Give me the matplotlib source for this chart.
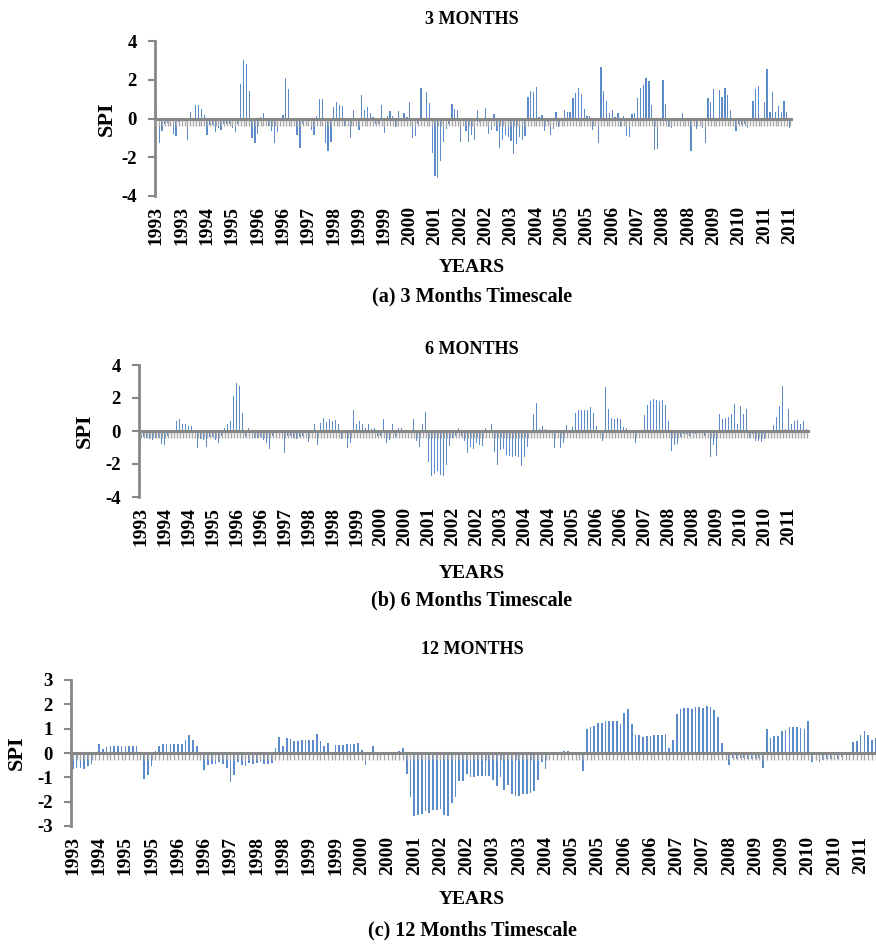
import numpy as np
import matplotlib
matplotlib.use("Agg")
import matplotlib.pyplot as plt

# ---------------- data ----------------
spi3 = [0.5, -1.25, -0.65, -0.3, -0.25, -0.35, -0.8, -0.9, -0.2, -0.15,
        0.05, -1.1, 0.35, -0.1, 0.7, 0.7, 0.5, 0.2, -0.85, -0.35,
        -0.35, -0.7, -0.5, -0.6, -0.3, -0.3, -0.3, -0.5, -0.7, -0.3,
        1.8, 3.0, 2.8, 1.4, -1.0, -1.25, -0.8, 0.1, 0.3, -0.3,
        -0.4, -0.65, -1.25, -0.7, -0.1, 0.2, 2.1, 1.5, -0.3, -0.3,
        -0.85, -1.5, -0.3, -0.1, 0.05, -0.6, -0.85, 0.15, 1.0, 1.0,
        -1.25, -1.7, -1.2, 0.6, 0.85, 0.7, 0.65, -0.4, 0.0, -1.0,
        0.45, -0.15, -0.6, 1.2, 0.45, 0.6, 0.3, 0.1, -0.3,
        -0.3, 0.7, -0.75, 0.15, 0.4, 0.15, -0.45, 0.4, -0.2, 0.3,
        0.1, 0.85, -1.0, -0.9, -0.3, 1.55, 0.05, 1.35, 0.8,
        -1.8, -2.95, -3.05, -2.2, -1.2, -0.55, -0.3, 0.75, 0.5, 0.45,
        -1.2, -0.3, -0.65, -1.2, -0.85, -1.1, 0.45, -0.2,
        -0.1, 0.55, -0.8, -0.6, 0.25, -0.65, -1.5, -1.1, -0.85, -0.95,
        -1.15, -1.85, -1.3, -0.95, -1.1, -0.9, 1.1, 1.4, 1.35, 1.65,
        0.1, 0.2, -0.65, -0.2, -0.85, -0.55, 0.35, -0.45, -0.1, 0.45,
        0.35, 0.35, 1.05, 1.3, 1.55, 1.25, 0.5, 0.15, 0.15, -0.6,
        -0.4, -1.25, 2.65, 1.4, 0.9, 0.3, 0.45, 0.1, 0.3, -0.45,
        0.15, -0.9, -0.95, 0.25, 0.3, 1.05, 1.55, 1.75, 2.1, 1.95,
        0.7, -1.6, -1.55, -0.35, 2.0, 0.75, -0.45, -0.5, -0.1, -0.1,
        -0.1, 0.3, -0.1, -0.1, -1.7, -0.1, -0.55, -0.1, -0.5, -1.25,
        1.05, 0.85, 1.5, -0.1, 1.45, 1.1, 1.55, 1.2, 0.45, -0.3,
        -0.65, -0.3, -0.35, -0.3, -0.5, -0.1, 0.9, 1.5, 1.7, -0.1,
        0.85, 2.55, 0.35, 1.35, 0.35, 0.65, 0.35, 0.9, 0.35, -0.5]

spi6 = [-0.6, -0.35, -0.4, -0.5, -0.55, -0.4, -0.45, -0.8, -0.85, -0.3,
        -0.1, -0.1, 0.6, 0.7, 0.45, 0.4, 0.3, 0.3, -0.1, -1.0,
        -0.5, -0.55, -0.95, -0.35, -0.35, -0.55, -0.75, -0.3, 0.2, 0.4,
        0.6, 2.1, 2.9, 2.75, 1.1, -0.35, 0.2, -0.15, -0.4, -0.45,
        -0.35, -0.55, -0.75, -1.1, -0.3, -0.1, -0.1, -0.1, -1.35, -0.3,
        -0.3, -0.45, -0.5, -0.35, -0.3, -0.1, -0.65, -0.1, 0.4, -0.85,
        0.5, 0.8, 0.55, 0.7, 0.6, 0.65, 0.4, -0.5, 0.05, -1.05,
        -0.75, 1.25, 0.45, 0.6, 0.45, 0.2, 0.45, 0.15, 0.2, -0.3,
        -0.3, 0.7, -0.7, -0.55, 0.4, -0.35, 0.2, 0.2, -0.1, -0.1,
        -0.1, 0.75, -0.6, -0.95, 0.45, 1.15, -1.85, -2.7, -2.6, -2.4,
        -2.65, -2.75, -2.05, -0.9, -0.45, -0.3, 0.2, -0.3, -0.6, -1.35,
        -0.95, -1.1, -0.75, -0.85,
        -0.9, 0.2, -0.1, 0.45, -1.25, -2.05, -1.15, -1.1, -1.45, -1.5,
        -1.55, -1.5, -1.6, -2.1, -1.6, -0.95, -0.1, 1.05, 1.7, 0.1,
        0.3, 0.1, -0.1, -0.1, -1.0, -0.1, -1.0, -0.75, 0.35, -0.1,
        0.25, 1.1, 1.3, 1.25, 1.25, 1.25, 1.45, 1.1, 0.3, -0.1,
        -0.6, 2.65, 1.35, 0.8, 0.7, 0.8, 0.7, 0.25, 0.2, -0.1,
        0.05, -0.75, -0.1, -0.1, 1.0, 1.6, 1.8, 1.95, 1.85, 1.8,
        1.85, 1.6, 0.6, -1.2, -0.85, -0.8, -0.35, -0.2, -0.2, -0.3,
        -0.15, -0.2, -0.1, -0.1, -0.3, -0.1, -1.55, -0.85, -1.5, 1.05,
        0.7, 0.8, 0.85, 1.05, 1.65, 0.45, 1.5, 1.05, 1.35, -0.45,
        -0.2, -0.6, -0.6, -0.65, -0.5, -0.1, -0.1, 0.35, 0.85, 1.5,
        2.7, 0.1, 1.35, 0.45, 0.6, 0.65, 0.45, 0.6, 0.1]

spi12 = [-0.65, -0.6, -0.6, -0.65, -0.55, -0.45, -0.15, 0.35, 0.15, 0.25,
         0.27, 0.27, 0.27, 0.3, 0.3, 0.3, 0.27, 0.3, -0.1, -1.05,
         -0.9, -0.55, 0.1, 0.3, 0.38, 0.38, 0.38, 0.38, 0.38, 0.38,
         0.55, 0.75, 0.55, 0.3, -0.3, -0.7, -0.5, -0.45, -0.45, -0.35,
         -0.45, -0.6, -1.2, -0.9, -0.35, -0.5, -0.55, -0.4, -0.45, -0.4,
         -0.35, -0.45, -0.45, -0.4, 0.2, 0.65, 0.3, 0.62, 0.58, 0.5,
         0.5, 0.53, 0.55, 0.55, 0.55, 0.8, 0.48, 0.28, 0.4, -0.1,
         0.33, 0.32, 0.33, 0.38, 0.37, 0.35, 0.4, 0.12, -0.5, 0.05,
         0.28, -0.1, -0.05, -0.02, 0.0, 0.03, 0.05, 0.07, 0.22, -0.85,
         -1.8, -2.6, -2.55, -2.5, -2.4, -2.45, -2.35, -2.35,
         -2.3, -2.55, -2.6, -2.05, -1.8, -1.15, -1.15, -0.85, -1.0, -1.0,
         -0.95, -0.95, -0.95, -0.95, -1.1, -1.35, -1.0, -1.5, -1.3, -1.7,
         -1.75, -1.75, -1.7, -1.7, -1.65, -1.55, -1.1, -0.35, -0.65, -0.05,
         -0.05, 0.0, 0.05, 0.08, 0.07, 0.03, -0.05, -0.1, -0.75, 1.0,
         1.05, 1.1, 1.25, 1.25, 1.3, 1.3, 1.3, 1.3, 1.2, 1.65,
         1.8, 1.2, 0.75, 0.75, 0.65, 0.68, 0.7, 0.72, 0.72, 0.72,
         0.77, 0.22, 0.55, 1.6, 1.8, 1.85, 1.85, 1.8, 1.87, 1.87,
         1.85, 1.95, 1.87, 1.75, 1.5, 0.4, -0.05, -0.5, -0.2, -0.25,
         -0.2, -0.2, -0.25, -0.25, -0.25, -0.2, -0.6, 1.0, 0.6, 0.7,
         0.7, 0.9, 0.95, 1.05, 1.05, 1.05, 1.02, 1.0, 1.3, -0.35,
         -0.1, -0.35, -0.3, -0.25, -0.25, -0.25, -0.25, -0.15, -0.1, -0.1,
         0.45, 0.5, 0.75, 0.9, 0.75, 0.55, 0.6, 0.6, 0.65]

labels3 = ['1993', '1993', '1994', '1995', '1996', '1996', '1997', '1998', '1999',
           '1999', '2000', '2001', '2002', '2002', '2003', '2004', '2005', '2005',
           '2006', '2007', '2008', '2008', '2009', '2010', '2011', '2011']
labels6 = ['1993', '1994', '1994', '1995', '1996', '1996', '1997', '1998', '1998',
           '1999', '2000', '2000', '2001', '2002', '2002', '2003', '2004', '2004',
           '2005', '2006', '2006', '2007', '2008', '2008', '2009', '2010', '2010',
           '2011']
labels12 = ['1993', '1994', '1995', '1995', '1996', '1996', '1997', '1998', '1998',
            '1999', '1999', '2000', '2000', '2001', '2002', '2002', '2003', '2003',
            '2004', '2005', '2005', '2006', '2006', '2007', '2007', '2008', '2009',
            '2009', '2010', '2010', '2011']

titles = ['3 MONTHS', '6 MONTHS', '12 MONTHS']
captions = ['(a) 3 Months Timescale', '(b) 6 Months Timescale', '(c) 12 Months Timescale']

# ---------------- style ----------------
plt.rcParams['font.family'] = ['Liberation Serif', 'DejaVu Serif']
plt.rcParams['font.weight'] = 'bold'
plt.rcParams['axes.unicode_minus'] = False

W, H = 876, 944
fig = plt.figure(figsize=(W / 100, H / 100), dpi=100)

BAR = '#5B8BC8'
AXIS = '#878787'
TICK = '#A8A8A8'


def rect(l, r, t, b):
    return [l / W, 1 - b / H, (r - l) / W, (b - t) / H]


layout = [
    dict(vals=spi3, labels=labels3, step=9, box=(155, 791, 41, 196), lim=4, ystep=2,
         ty=20, yy=268, cy=296, sx=107),
    dict(vals=spi6, labels=labels6, step=8, box=(139, 808, 365, 497), lim=4, ystep=2,
         ty=350, yy=573, cy=600, sx=85),
    dict(vals=spi12, labels=labels12, step=7, box=(71, 885, 680, 826), lim=3, ystep=1,
         ty=650, yy=900, cy=930, sx=17),
]

for k, p in enumerate(layout):
    vals = np.array(p['vals'])
    n = len(vals)
    x = np.arange(n)
    l, r, t, b = p['box']
    ax = fig.add_axes(rect(l, r, t, b))
    ax.bar(x, vals, width=0.45, color=BAR, edgecolor='none', zorder=2)
    ax.set_xlim(-0.5, n - 0.5)
    ax.set_ylim(-p['lim'], p['lim'])
    ax.set_yticks(np.arange(-p['lim'], p['lim'] + 1, p['ystep']))
    ax.tick_params(axis='y', direction='out', length=5, width=1.5, color=AXIS,
                   labelsize=13.5, pad=8)
    for s in ('top', 'right', 'bottom'):
        ax.spines[s].set_visible(False)
    ax.spines['left'].set_color(AXIS)
    ax.spines['left'].set_linewidth(2)
    ax.set_facecolor('none')

    # year labels at the bottom
    ax.set_xticks(x[::p['step']])
    ax.set_xticklabels(p['labels'][:len(x[::p['step']])], rotation=90,
                       fontsize=14, fontweight='bold')
    ax.tick_params(axis='x', length=0, pad=7)

    # category axis through zero with a tick at every month
    sec = ax.secondary_xaxis(0.5)
    sec.set_alignment('bottom')
    sec.set_xticks(x)
    sec.tick_params(axis='x', direction='out', length=5, width=1.0, color=TICK,
                    labelbottom=False)
    sec.spines['bottom'].set_color(AXIS)
    sec.spines['bottom'].set_linewidth(2.2)
    sec.set_zorder(3)

    fig.text(472 / W, 1 - p['ty'] / H, titles[k], ha='center', va='center',
             fontsize=13, fontweight='bold')
    fig.text(472 / W, 1 - p['yy'] / H, 'YEARS', ha='center', va='center',
             fontsize=14, fontweight='bold')
    fig.text(472 / W, 1 - p['cy'] / H, captions[k], ha='center', va='center',
             fontsize=14.5, fontweight='bold')
    fig.text(p['sx'] / W, 1 - ((t + b) / 2) / H, 'SPI', rotation=90, ha='center',
             va='center', fontsize=16, fontweight='bold')

fig.savefig('out.png', dpi=100, facecolor='white')
